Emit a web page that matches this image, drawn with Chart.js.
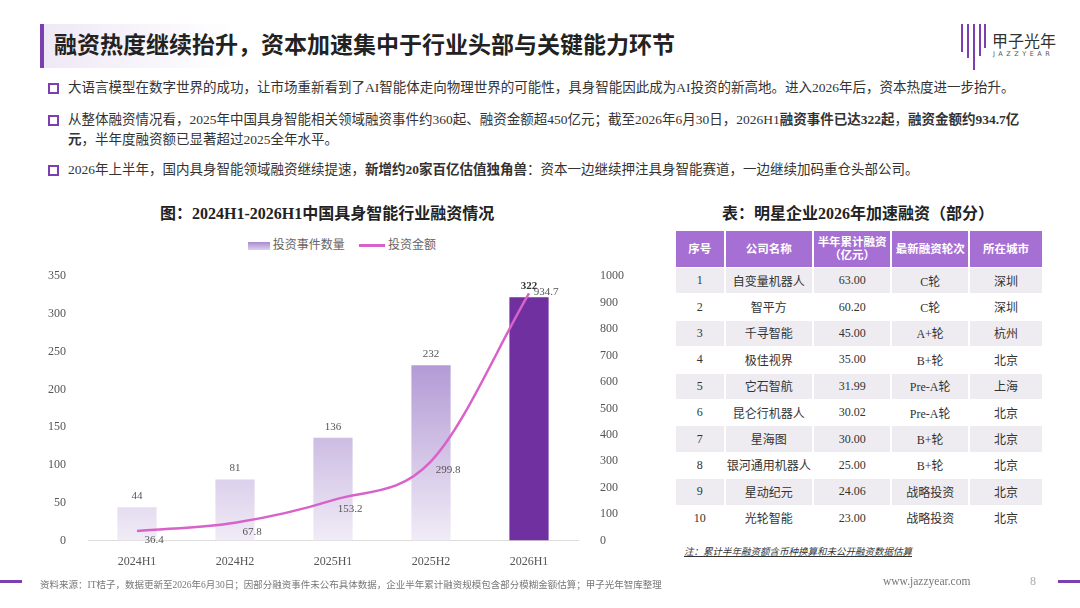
<!DOCTYPE html>
<html><head><meta charset="utf-8">
<script src="https://cdn.jsdelivr.net/npm/chart.js@4"></script>
<style>
body{margin:0;width:1080px;height:608px;background:#fff;position:relative;overflow:hidden;font-family:"Liberation Serif","Noto Sans CJK SC",serif;color:#333}
.abs{position:absolute}
#title{left:40px;top:24px;height:44px;border-left:4px solid #7b3fb0;padding-left:10px;font-size:23px;font-weight:bold;line-height:44px;color:#222;background:linear-gradient(90deg,#efe8f6,#fff 30%)}
.b{left:48px;font-size:13.5px;line-height:20px;width:990px;color:#333}
.b:before{content:"";position:absolute;left:0;top:5px;width:7px;height:7px;border:2px solid #7b3fb0}
.b span{display:block;padding-left:20px}
.ct{font-size:16px;font-weight:bold;color:#222}
table{border-collapse:separate;border-spacing:2px 1px;font-size:12px;text-align:center}
th{background:#a66fd4;color:#fff;height:36px;padding:0;font-weight:bold;font-size:11.5px;line-height:13px}
td{height:25.4px;padding:0;color:#333}
tr.g td{background:#eeecf1}
</style></head><body>
<div id="title" class="abs">融资热度继续抬升，资本加速集中于行业头部与关键能力环节</div>
<div class="abs" style="left:960px;top:22px;font-size:0">
<svg width="26" height="50"><g stroke="#7b3fb0" stroke-width="2"><line x1="2" y1="2" x2="2" y2="30"/><line x1="8" y1="2" x2="8" y2="36"/><line x1="14" y1="2" x2="14" y2="48"/><line x1="20" y1="2" x2="20" y2="34"/><line x1="25" y1="2" x2="25" y2="26"/></g></svg></div>
<div class="abs" style="left:992px;top:28px;font-size:16px;color:#333;font-family:'Noto Sans CJK SC'">甲子光年</div>
<div class="abs" style="left:993px;top:50px;font-size:6.5px;letter-spacing:3.5px;color:#555;font-family:'DejaVu Sans'">JAZZYEAR</div>

<div class="abs b" style="top:78px"><span>大语言模型在数字世界的成功，让市场重新看到了AI智能体走向物理世界的可能性，具身智能因此成为AI投资的新高地。进入2026年后，资本热度进一步抬升。</span></div>
<div class="abs b" style="top:110px"><span>从整体融资情况看，2025年中国具身智能相关领域融资事件约360起、融资金额超450亿元；截至2026年6月30日，2026H1<b>融资事件已达322起</b>，<b>融资金额约934.7亿元</b>，半年度融资额已显著超过2025全年水平。</span></div>
<div class="abs b" style="top:160px"><span>2026年上半年，国内具身智能领域融资继续提速，<b>新增约20家百亿估值独角兽</b>：资本一边继续押注具身智能赛道，一边继续加码重仓头部公司。</span></div>

<div class="abs ct" style="left:160px;top:200px">图：2024H1-2026H1中国具身智能行业融资情况</div>
<div class="abs" style="left:248px;top:235px;font-size:12px;color:#666;font-family:'Noto Sans CJK SC'">
<span style="display:inline-block;width:22px;height:8px;background:linear-gradient(#a98bd0,#ddd0ec);vertical-align:middle"></span> 投资事件数量
<span style="display:inline-block;width:26px;height:3px;background:#d862c9;vertical-align:middle;margin-left:12px"></span> 投资金额</div>
<div class="abs" style="left:34px;top:255px;width:604px;height:320px"><canvas id="c"></canvas></div>

<div class="abs ct" style="left:722px;top:200px">表：明星企业2026年加速融资（部分）</div>
<table class="abs" style="left:674px;top:230px;width:370px" id="tb"></table>
<div class="abs" style="left:684px;top:544px;font-size:9.5px;font-style:italic;text-decoration:underline;color:#333">注：累计半年融资额含币种换算和未公开融资数据估算</div>

<div class="abs" style="left:0;top:580px;width:22px;height:3px;background:#7b3fb0"></div>
<div class="abs" style="left:1058px;top:580px;width:22px;height:3px;background:#7b3fb0"></div>
<div class="abs" style="left:40px;top:577px;font-size:9.5px;color:#777">资料来源：IT桔子，数据更新至2026年6月30日；因部分融资事件未公布具体数据，企业半年累计融资规模包含部分模糊金额估算；甲子光年智库整理</div>
<div class="abs" style="left:883px;top:575px;font-size:11.5px;color:#777">www.jazzyear.com</div>
<div class="abs" style="left:1030px;top:574px;font-size:12px;color:#aaa">8</div>

<script>
const periods = ['2024H1','2024H2','2025H1','2025H2','2026H1'];
const dealCounts = [44, 81, 136, 232, 322];
const amounts = [36.4, 67.8, 153.2, 299.8, 934.7];
const leftTicks = [0,50,100,150,200,250,300,350];

const tableHead = ['序号','公司名称','半年累计融资<br>（亿元）','最新融资轮次','所在城市'];
const companies = ['自变量机器人','智平方','千寻智能','极佳视界','它石智航','昆仑行机器人','星海图','银河通用机器人','星动纪元','光轮智能'];
const funding = ['63.00','60.20','45.00','35.00','31.99','30.02','30.00','25.00','24.06','23.00'];
const rounds = ['C轮','C轮','A+轮','B+轮','Pre-A轮','Pre-A轮','B+轮','B+轮','战略投资','战略投资'];
const cities = ['深圳','深圳','杭州','北京','上海','北京','北京','北京','北京','北京'];

let html = '<tr>' + tableHead.map((h,i) => `<th style="width:${[45,82,72,72,68][i]}px">${h}</th>`).join('') + '</tr>';
companies.forEach((c,i) => {
  html += `<tr class="${i%2==0?'g':''}"><td>${i+1}</td><td>${c}</td><td>${funding[i]}</td><td>${rounds[i]}</td><td>${cities[i]}</td></tr>`;
});
document.getElementById('tb').innerHTML = html;

const labelPlugin = {
  id: 'labels',
  afterDatasetsDraw(chart) {
    const ctx = chart.ctx;
    ctx.save();
    ctx.font = '11px "Liberation Serif"';
    ctx.textAlign = 'center';
    chart.getDatasetMeta(0).data.forEach((b,i) => {
      ctx.fillStyle = i == 4 ? '#333' : '#555';
      if (i == 4) ctx.font = 'bold 11px "Liberation Serif"';
      ctx.fillText(dealCounts[i], b.x, b.y - 8);
    });
    ctx.font = '11px "Liberation Serif"';
    ctx.fillStyle = '#555';
    chart.getDatasetMeta(1).data.forEach((p,i) => {
      ctx.fillText(amounts[i], p.x + 17, i == 4 ? p.y + 2 : p.y + 12);
    });
    ctx.restore();
  }
};

new Chart(document.getElementById('c'), {
  data: {
    labels: periods,
    datasets: [{
      type: 'bar', data: dealCounts, yAxisID: 'y', order: 2,
      barPercentage: 0.4, categoryPercentage: 1,
      backgroundColor: c => {
        if (c.dataIndex == 4) return '#7030a0';
        const a = c.chart.chartArea;
        if (!a) return '#b9a2d8';
        const g = c.chart.ctx.createLinearGradient(0, a.top, 0, a.bottom);
        g.addColorStop(0, '#9471c4');
        g.addColorStop(1, '#f1ecf7');
        return g;
      }
    }, {
      type: 'line', data: amounts, yAxisID: 'y1', order: 1,
      borderColor: '#d862c9', borderWidth: 2.5, pointRadius: 0, tension: 0.45, cubicInterpolationMode: 'monotone'
    }]
  },
  options: {
    responsive: true, maintainAspectRatio: false, animation: false,
    layout: { padding: { top: 10, right: 0 } },
    plugins: { legend: { display: false }, tooltip: { enabled: false } },
    scales: {
      x: { grid: { display: false }, border: { color: '#ddd' },
           ticks: { color: '#555', font: { size: 12, family: 'Liberation Serif' }, padding: 6 } },
      y: { min: 0, max: 350, afterBuildTicks: s => { s.ticks = leftTicks.map(v => ({ value: v })); },
           grid: { display: false }, border: { display: false },
           ticks: { color: '#555', font: { size: 12, family: 'Liberation Serif' }, padding: 14 } },
      y1: { position: 'right', min: 0, max: 1000,
            ticks: { stepSize: 100, color: '#555', font: { size: 12, family: 'Liberation Serif' }, padding: 14, callback: v => String(v) },
            grid: { display: false }, border: { display: false } }
    }
  },
  plugins: [labelPlugin]
});
</script>
</body></html>
